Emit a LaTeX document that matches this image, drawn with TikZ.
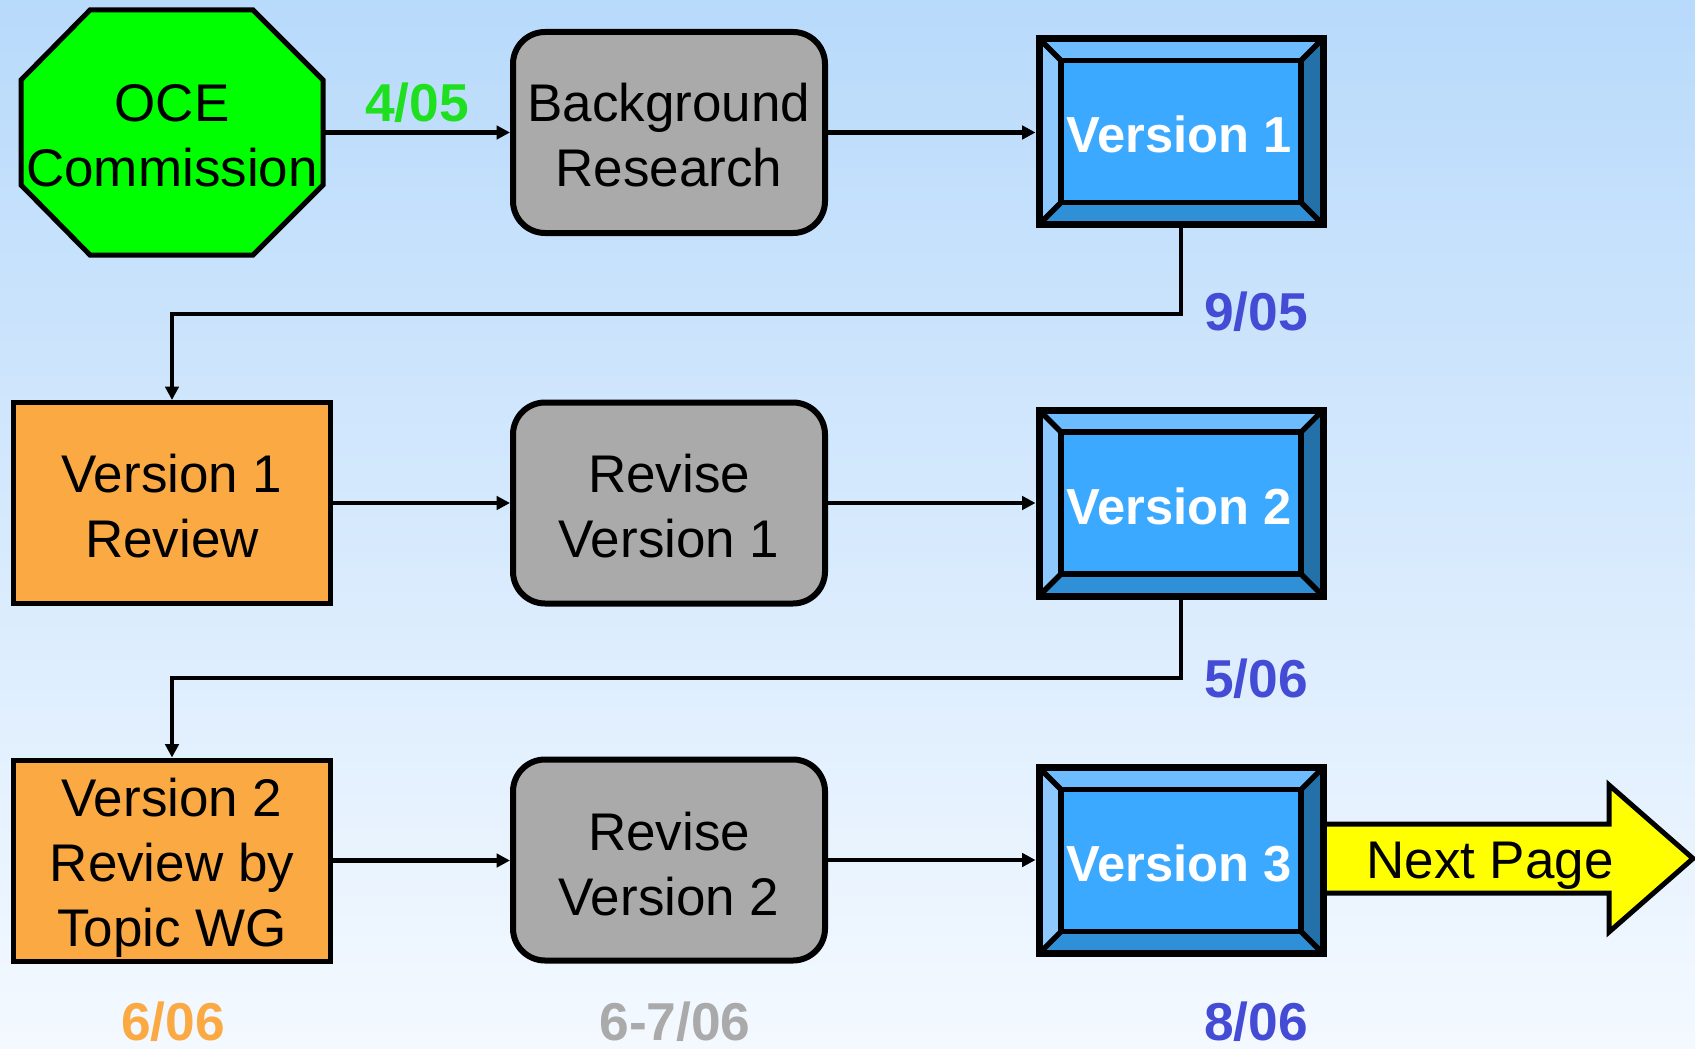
\documentclass[tikz,border=0pt]{standalone}
\usepackage{fontspec}
\setmainfont{Liberation Sans}
\usetikzlibrary{arrows.meta}
\definecolor{bgtop}{HTML}{B8DAFB}
\definecolor{bgbot}{HTML}{F4F9FF}
\definecolor{ocegreen}{HTML}{00FF00}
\definecolor{lblgreen}{HTML}{1EE01E}
\definecolor{gboxc}{HTML}{AAAAAA}
\definecolor{obox}{HTML}{FBA943}
\definecolor{lblblue}{HTML}{444CD6}
\definecolor{bvmid}{HTML}{3BA9FF}
\definecolor{bvtop}{HTML}{6CBCFF}
\definecolor{bvleft}{HTML}{8DC8FF}
\definecolor{bvright}{HTML}{2470A8}
\definecolor{bvbot}{HTML}{2F8FD7}
\definecolor{arrowyellow}{HTML}{FFFF00}
\newcommand\regfont{\fontsize{39.75pt}{48.75pt}\selectfont}
\newcommand\lblfont{\fontsize{40pt}{48pt}\selectfont\bfseries}
\newcommand\verfont{\fontsize{38pt}{46pt}\selectfont\bfseries}
\newcommand\bevelbox[4]{%
 \fill[bvmid] (#2-142,#3-93) rectangle (#2+142,#3+93);
 \fill[bvtop] (#2-142,#3-93) -- (#2+142,#3-93) -- (#2+120,#3-71) -- (#2-120,#3-71) -- cycle;
 \fill[bvbot] (#2-142,#3+93) -- (#2+142,#3+93) -- (#2+120,#3+71) -- (#2-120,#3+71) -- cycle;
 \fill[bvleft] (#2-142,#3-93) -- (#2-120,#3-71) -- (#2-120,#3+71) -- (#2-142,#3+93) -- cycle;
 \fill[bvright] (#2+142,#3-93) -- (#2+120,#3-71) -- (#2+120,#3+71) -- (#2+142,#3+93) -- cycle;
 \draw[bvline] (#2-120,#3-71) rectangle (#2+120,#3+71);
 \draw[bvline] (#2-142,#3-93) -- (#2-120,#3-71) (#2+142,#3-93) -- (#2+120,#3-71)
   (#2-142,#3+93) -- (#2-120,#3+71) (#2+142,#3+93) -- (#2+120,#3+71);
 \node[bvbox] (#1) at (#2,#3) {};
 \node[bvtext, anchor=base] (#1-t) at (#2-2,#3+21) {#4};
}
\begin{document}
\begin{tikzpicture}[x=0.75pt,y=-0.75pt,
  conn/.style={line width=3.4pt, -{Triangle[length=10pt,width=10pt]}},
  gbox/.style={rectangle, rounded corners=24pt, draw, line width=4.5pt, fill=gboxc,
    minimum width=312*0.75pt, minimum height=201*0.75pt, inner sep=0pt},
  obx/.style={rectangle, draw, line width=3.75pt, fill=obox,
    minimum width=317*0.75pt, minimum height=201*0.75pt, inner sep=0pt},
  txt/.style={font=\regfont, align=center, inner sep=0pt},
  bvline/.style={line width=4pt, line join=miter},
  bvbox/.style={rectangle, draw, line width=5.25pt, minimum width=284*0.75pt, minimum height=186*0.75pt, inner sep=0pt},
  bvtext/.style={text=white, font=\verfont, inner sep=0pt},
  lbl/.style={font=\lblfont, inner sep=0pt, anchor=base}]
\useasboundingbox (0,0) rectangle (1695,1049);
\shade[top color=bgtop, bottom color=bgbot] (0,0) rectangle (1695,1049);

% octagon
\draw[line width=3.75pt, fill=ocegreen, line join=miter]
  (90,10) -- (253,10) -- (323,80) -- (323,185) -- (253,255) -- (90,255) -- (21,185) -- (21,80) -- cycle;
\node[rectangle, minimum width=306*0.75pt, minimum height=249*0.75pt, inner sep=0pt, outer sep=0pt]
  (oce) at (172,132.5) {};
\node[txt] (oce-t) at (172,135.5) {OCE\\Commission};

% row 1
\node[gbox] (bg) at (669,132.5) {};
\node[txt] (bg-t) at (669,135.5) {Background\\Research};
\bevelbox{v1}{1181}{131.5}{Version 1}

% row 2
\node[obx] (r1) at (172,503) {};
\node[txt] (r1-t) at (172,506) {Version 1\\Review};
\node[gbox] (rv1) at (669,503) {};
\node[txt] (rv1-t) at (669,506) {Revise\\Version 1};
\bevelbox{v2}{1181}{503}{Version 2}

% next page arrow
\draw[line width=3.75pt, fill=arrowyellow, line join=miter]
  (1300,824) -- (1609,824) -- (1609,785) -- (1693,858.5) -- (1609,932) -- (1609,893) -- (1300,893) -- cycle;
\node[font=\regfont, anchor=base, inner sep=0pt] (next) at (1490,878) {Next Page};

% row 3
\node[obx] (r2) at (172,860.5) {};
\node[txt] (r2-t) at (172,867.5) {Version 2\\Review by\\Topic WG};
\node[gbox] (rv2) at (669,860) {};
\node[txt] (rv2-t) at (669,864) {Revise\\Version 2};
\bevelbox{v3}{1181}{860.5}{Version 3}

% connectors
\coordinate (k1) at (172,314);
\coordinate (k2) at (172,678);
\draw[conn] (oce.east) -- (bg.west);
\draw[conn] (bg.east) -- (bg.east -| v1.west);
\draw[conn, line join=miter] (v1.south) |- (k1) -- (r1.north);
\draw[conn] (r1.east) -- (rv1.west);
\draw[conn] (rv1.east) -- (rv1.east -| v2.west);
\draw[conn, line join=miter] (v2.south) |- (k2) -- (r2.north);
\draw[conn] (r2.east) -- (r2.east -| rv2.west);
\draw[conn] (rv2.east) -- (rv2.east -| v3.west);

% labels
\node[lbl, text=lblgreen] (l405) at (417,121) {4/05};
\node[lbl, text=lblblue] (l905) at (1256,330) {9/05};
\node[lbl, text=lblblue] (l506) at (1256,697) {5/06};
\node[lbl, text=obox] (l606) at (173,1040) {6/06};
\node[lbl, text=gboxc] (l6706) at (675,1040) {6-7/06};
\node[lbl, text=lblblue] (l806) at (1256,1040) {8/06};
\end{tikzpicture}
\end{document}
